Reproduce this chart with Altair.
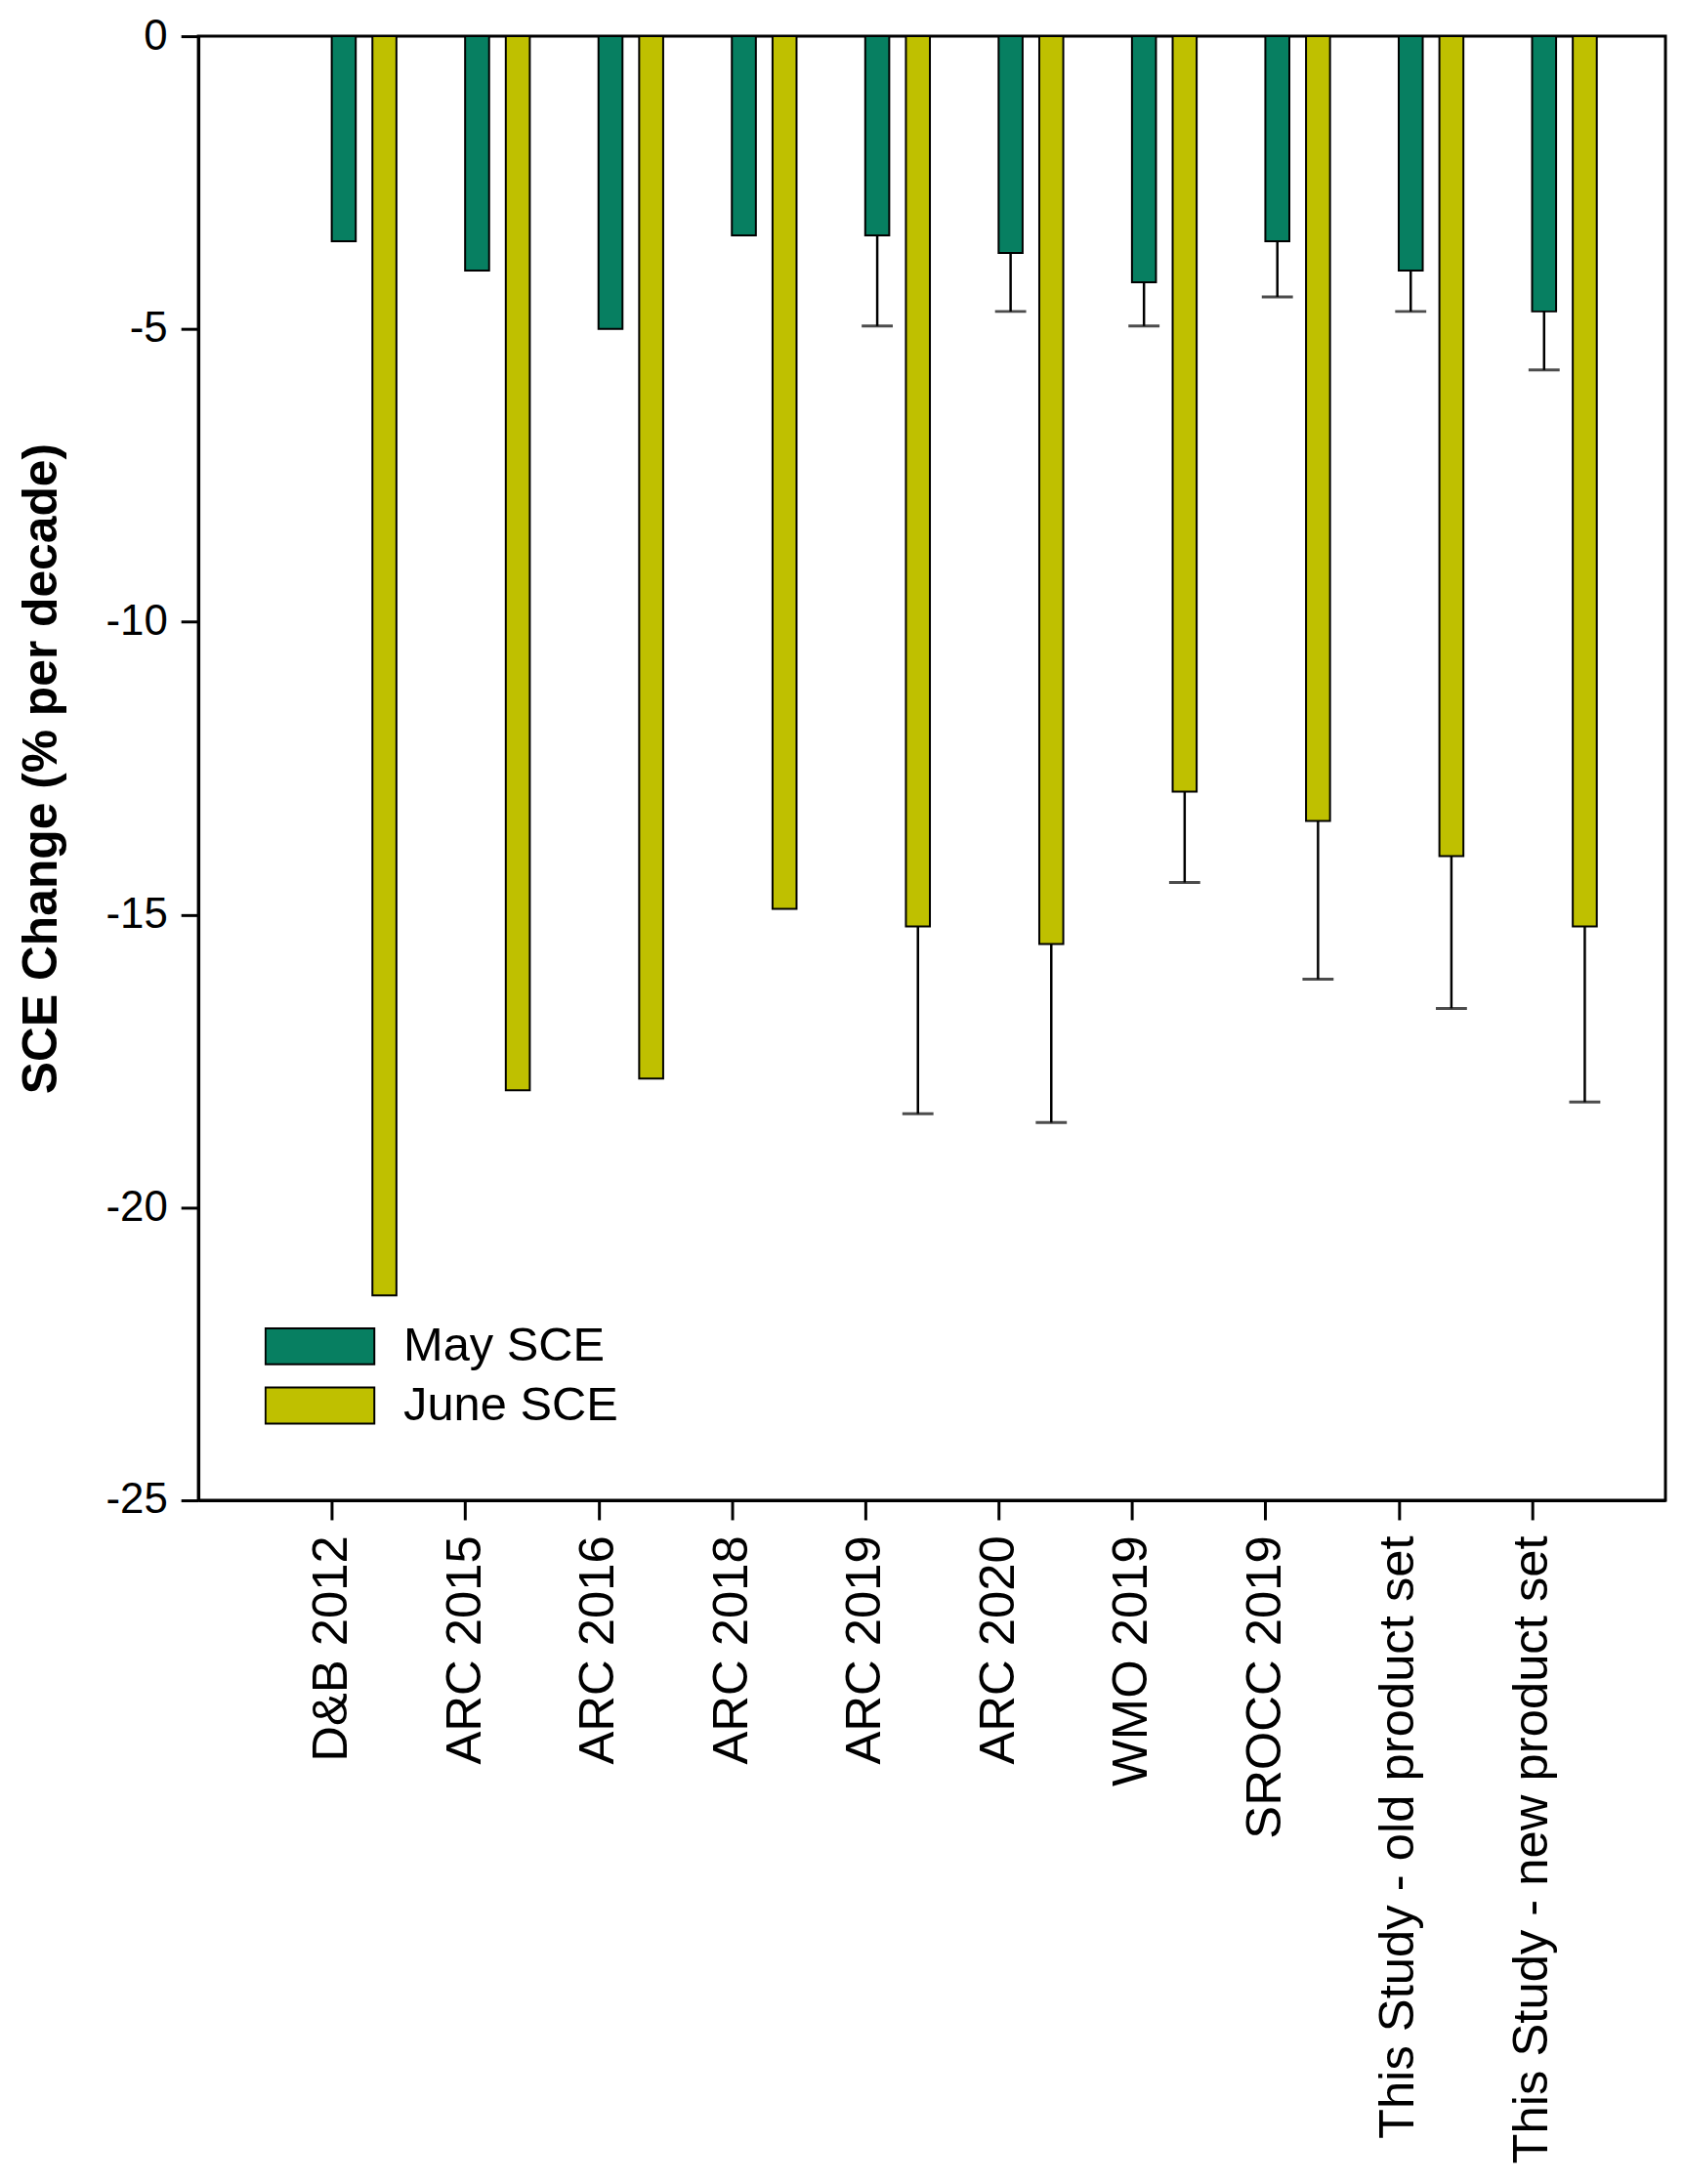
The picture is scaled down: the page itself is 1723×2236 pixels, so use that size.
import altair as alt
import pandas as pd

# Data (% per decade)
studies = ['D&B 2012', 'ARC 2015', 'ARC 2016', 'ARC 2018', 'ARC 2019', 'ARC 2020',
           'WMO 2019', 'SROCC 2019', 'This Study - old product set', 'This Study - new product set']
may_sce = [-3.5, -4.0, -5.0, -3.4, -3.4, -3.7, -4.2, -3.5, -4.0, -4.7]
may_err = [None, None, None, None, -4.95, -4.7, -4.95, -4.45, -4.7, -5.7]
june_sce = [-21.5, -18.0, -17.8, -14.9, -15.2, -15.5, -12.9, -13.4, -14.0, -15.2]
june_err = [None, None, None, None, -18.4, -18.55, -14.45, -16.1, -16.6, -18.2]
series = ['May SCE', 'June SCE']
colors = ['#077F61', '#BFC000']

# bar placement relative to each category tick (in category units)
offsets = {'May SCE': (0.0, 0.18), 'June SCE': (0.305, 0.485)}

rows = []
for i, name in enumerate(studies):
    pos = i + 1
    for s, vals, errs in [('May SCE', may_sce, may_err), ('June SCE', june_sce, june_err)]:
        a, b = offsets[s]
        rows.append({'study': name, 'series': s, 'value': vals[i], 'err': errs[i],
                     'x0': pos + a, 'x1': pos + b, 'xm': pos + (a + b) / 2, 'zero': 0})
df = pd.DataFrame(rows)
err_df = df.dropna(subset=['err'])

label_expr = 'datum.value >= 1 && datum.value <= 10 ? ' + str(studies) + '[datum.value - 1] : ""'

x_scale = alt.Scale(domain=[0, 11], nice=False, zero=False)
y_scale = alt.Scale(domain=[-25, 0], nice=False)

bars = alt.Chart(df).mark_rect(stroke='black', strokeWidth=2).encode(
    x=alt.X('x0:Q', scale=x_scale, axis=alt.Axis(
        title=None, values=list(range(1, 11)), labelExpr=label_expr, labelAngle=270,
        labelFontSize=51, labelLimit=1000, tickSize=20, labelPadding=16, grid=False)),
    x2='x1:Q',
    y=alt.Y('value:Q', scale=y_scale, axis=alt.Axis(
        title='SCE Change (% per decade)', values=[-25, -20, -15, -10, -5, 0],
        labelExpr='datum.value + ""',
        labelFontSize=44, tickSize=18, labelPadding=14, grid=False,
        titleFontSize=50, titleFontWeight='bold', titleX=-161, titleY=753,
        titleBaseline='middle', titleAngle=270)),
    y2='zero:Q',
    color=alt.Color('series:N', scale=alt.Scale(domain=series, range=colors),
                    legend=alt.Legend(title=None, orient='none', legendX=68, legendY=1317))
)

err_lines = alt.Chart(err_df).mark_rule(color='black', strokeWidth=2.5).encode(
    x='xm:Q', y='value:Q', y2='err:Q'
)

err_caps = alt.Chart(err_df).mark_tick(color='black', orient='horizontal', size=32, thickness=3).encode(
    x='xm:Q', y='err:Q'
)

chart = (bars + err_lines + err_caps).properties(
    width=1509, height=1506,
    autosize=alt.AutoSizeParams(type='none'),
    padding={'left': 196, 'top': 24, 'right': 10, 'bottom': 690},
    background='white'
).configure_view(
    stroke='black', strokeWidth=3
).configure_axis(
    domainColor='black', domainWidth=3, tickColor='black', tickWidth=3,
    labelColor='black', titleColor='black',
    labelFont='Liberation Sans', titleFont='Liberation Sans'
).configure_legend(
    padding=0, labelFont='Liberation Sans', labelFontSize=49, labelColor='black',
    labelLimit=1000, labelOffset=29, symbolType='M-1,-0.33H1V0.33H-1Z', symbolSize=12544,
    symbolStrokeColor='black', symbolStrokeWidth=2, symbolOpacity=1,
    clipHeight=61, rowPadding=0
)

chart.save('out.html', embed_options={'renderer': 'svg', 'actions': False})
